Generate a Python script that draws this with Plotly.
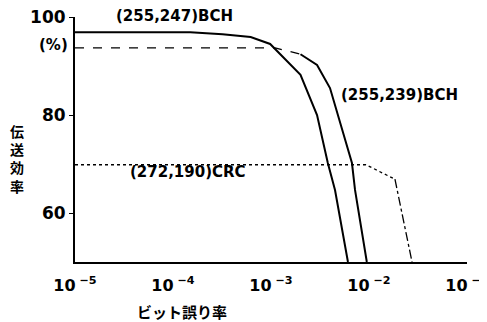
import plotly.graph_objects as go

# (255,247)BCH - solid
ber_247 = [1e-5, 1.5e-4, 3.2e-4, 6.2e-4, 9.8e-4, 2.0e-3, 2.95e-3, 3.8e-3, 4.5e-3, 6.1e-3]
eff_247 = [96.9, 96.9, 96.5, 95.9, 94.5, 88.2, 80.0, 70.2, 64.7, 50.0]

# (255,239)BCH - dashed flat part, solid drop
ber_239_flat = [1e-5, 1.1e-3, 2.0e-3]
eff_239_flat = [93.7, 93.7, 92.4]
ber_239_drop = [2.0e-3, 2.95e-3, 4.0e-3, 4.8e-3, 5.4e-3, 6.7e-3, 7.2e-3, 9.5e-3]
eff_239_drop = [92.4, 90.2, 85.5, 80.0, 76.9, 70.2, 64.7, 50.0]

# (272,190)CRC - dotted flat part, dashed drop
ber_crc_flat = [1e-5, 9.3e-3, 1.84e-2]
eff_crc_flat = [69.85, 69.85, 66.9]
ber_crc_drop = [1.84e-2, 2.75e-2]
eff_crc_drop = [66.9, 50.0]

x_ticks = [1e-5, 1e-4, 1e-3, 1e-2, 1e-1]
x_tick_text = ["10<sup> −5</sup>", "10<sup> −4</sup>", "10<sup> −3</sup>", "10<sup> −2</sup>", "10<sup> −1</sup>"]
y_ticks = [60, 80, 100]
y_tick_text = ["60", "80", "100"]
y_title = "伝<br>送<br>効<br>率"
x_title = "ビット誤り率"

FONT = "DejaVu Sans"

fig = go.Figure()
fig.add_trace(go.Scatter(x=ber_247, y=eff_247, mode="lines",
                         line=dict(color="black", width=2), showlegend=False))
fig.add_trace(go.Scatter(x=ber_239_flat, y=eff_239_flat, mode="lines",
                         line=dict(color="black", width=1.3, dash="dash"), showlegend=False))
fig.add_trace(go.Scatter(x=ber_239_drop, y=eff_239_drop, mode="lines",
                         line=dict(color="black", width=2), showlegend=False))
fig.add_trace(go.Scatter(x=ber_crc_flat, y=eff_crc_flat, mode="lines",
                         line=dict(color="black", width=1.3, dash="dot"), showlegend=False))
fig.add_trace(go.Scatter(x=ber_crc_drop, y=eff_crc_drop, mode="lines",
                         line=dict(color="black", width=1.3, dash="dashdot"), showlegend=False))

# page body has an 8px default margin: size the figure to the visible area
fig.update_layout(
    width=479, height=314,
    margin=dict(l=67, r=20, t=9, b=60),
    paper_bgcolor="white", plot_bgcolor="white",
    font=dict(family=FONT, color="black"),
    xaxis=dict(type="log", range=[-5, -1], tickvals=x_ticks, ticktext=x_tick_text,
               automargin=False, ticklabeloverflow="allow", ticklabelstandoff=8,
               showgrid=False, zeroline=False, showline=True, linecolor="black", linewidth=1.5,
               ticks="", tickfont=dict(size=16, family=FONT, weight="bold")),
    yaxis=dict(range=[50, 100], tickvals=y_ticks, ticktext=y_tick_text,
               automargin=False, ticklabeloverflow="allow",
               showgrid=False, zeroline=False, showline=True, linecolor="black", linewidth=2,
               ticks="outside", ticklen=4, tickwidth=1, tickcolor="black",
               tickfont=dict(size=17, family=FONT, weight="bold")),
)

def ann(text, x, y, size=15, family=FONT):
    fig.add_annotation(text=text, x=x, y=y, xref="paper", yref="paper",
                       showarrow=False, xanchor="center", yanchor="middle",
                       font=dict(size=size, family=family, color="black", weight="bold"))

ann("(255,247)BCH", 0.255, 1.004)
ann("(255,239)BCH", 0.827, 0.682)
ann("(272,190)CRC", 0.288, 0.367)
ann("(%)", -0.0536, 0.886, 15)
ann(y_title, -0.148, 0.424, 14, "Noto Sans CJK JP")
ann(x_title, 0.273, -0.200, 15, "Noto Sans CJK JP")

fig.write_html("out.html")
